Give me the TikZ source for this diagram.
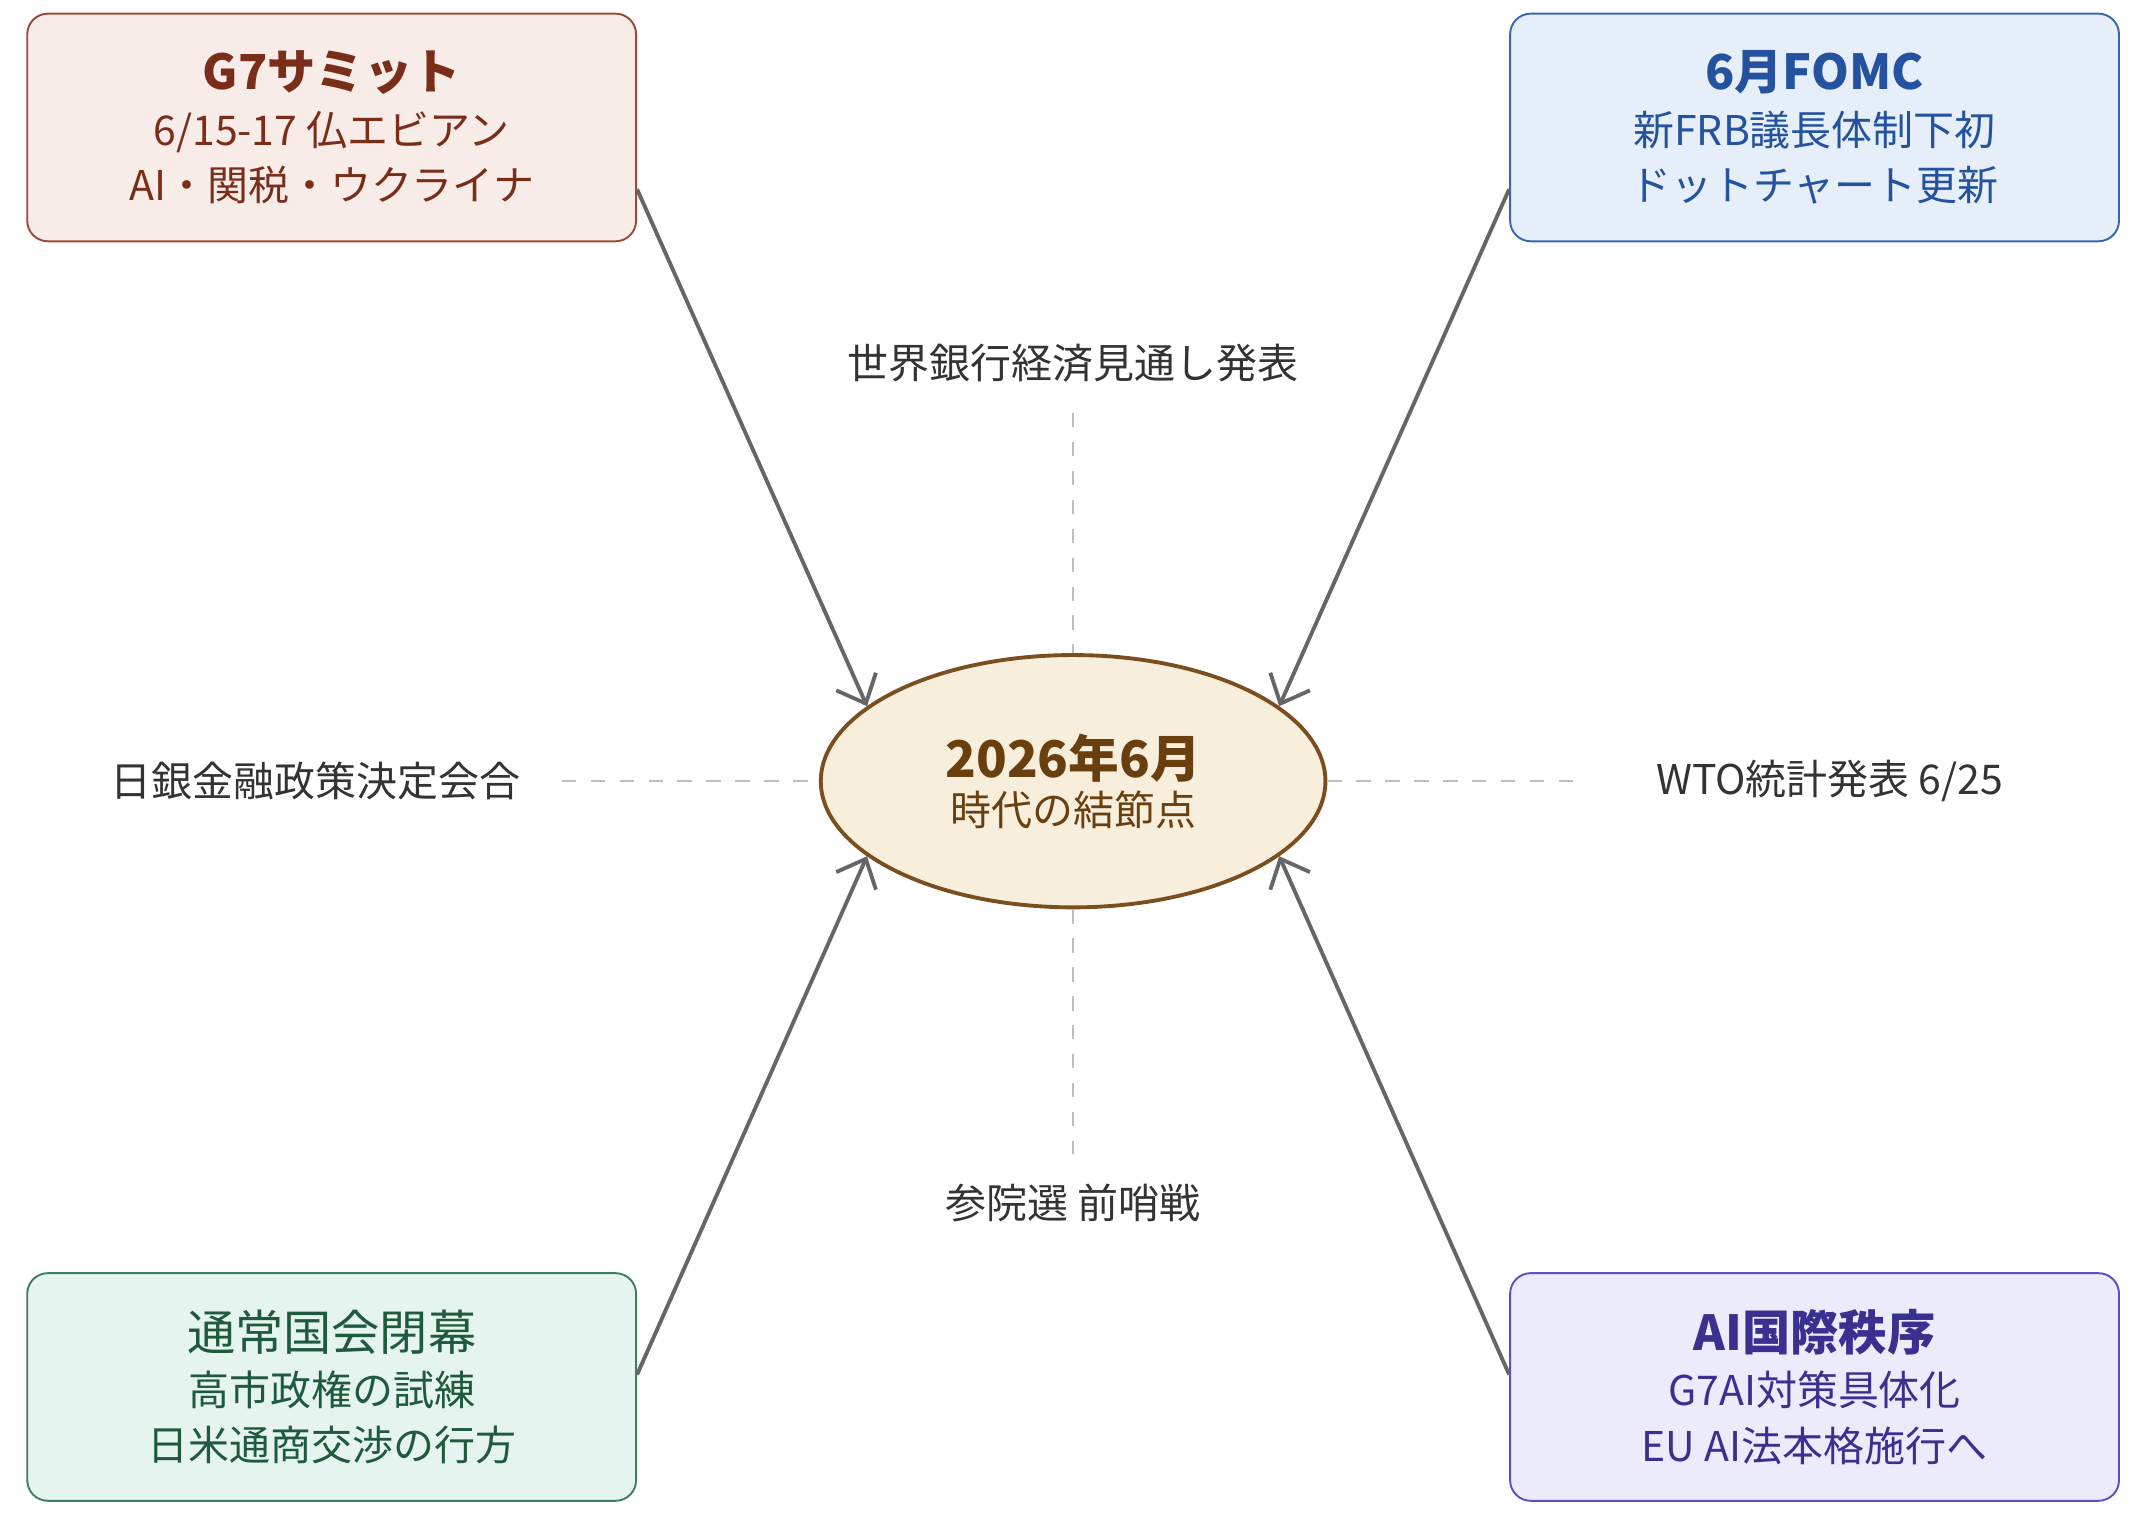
\documentclass[tikz,border=0pt]{standalone}
\usepackage{fontspec}
\setmainfont{Noto Sans CJK JP}
\usetikzlibrary{positioning, shapes, calc, arrows.meta}
\definecolor{gfill}{HTML}{F8ECE8}\definecolor{gline}{HTML}{9B4A3A}\definecolor{gtext}{HTML}{7A2E1A}
\definecolor{ffill}{HTML}{E6EFF9}\definecolor{fline}{HTML}{3A66B0}\definecolor{ftext}{HTML}{24529E}
\definecolor{nfill}{HTML}{E5F4EE}\definecolor{nline}{HTML}{3C8060}\definecolor{ntext}{HTML}{1F5A3E}
\definecolor{pfill}{HTML}{ECEBFB}\definecolor{pline}{HTML}{5A50C0}\definecolor{ptext}{HTML}{3A3090}
\definecolor{hfill}{HTML}{F8EEDC}\definecolor{hline}{HTML}{7A4E1E}\definecolor{htext}{HTML}{6A3F10}
\begin{document}
\begin{tikzpicture}[
x=0.01cm, y=-0.01cm,
mybox/.style={rectangle, rounded corners=0.15cm, draw=#1line, fill=#1fill, text=#1text,
  minimum width=4.44cm, minimum height=1.66cm, align=center, font=\fontsize{8.5pt}{11.5pt}\selectfont},
mylabel/.style={text=black!80, font=\fontsize{8.5pt}{10pt}\selectfont},
mydash/.style={draw=black!25, dashed, thin},
myarrow/.style={draw=black!60, line width=0.8pt, -{Straight Barb[length=5pt,width=9pt]}},
]
\useasboundingbox (0,0) rectangle (1560,1108);

\node[mybox=g] (g7) at (242,93)
    {{\fontsize{10pt}{12pt}\selectfont\bfseries G7サミット}\\6/15-17 仏エビアン\\AI・関税・ウクライナ};
\node[mybox=f] (fomc) at (1324,93)
    {{\fontsize{10pt}{12pt}\selectfont\bfseries 6月FOMC}\\新FRB議長体制下初\\ドットチャート更新};
\node[mybox=n] (diet) at (242,1012)
    {{\fontsize{10pt}{12pt}\selectfont 通常国会閉幕}\\高市政権の試練\\日米通商交渉の行方};
\node[mybox=p] (ai) at (1324,1012)
    {{\fontsize{10pt}{12pt}\selectfont\bfseries AI国際秩序}\\G7AI対策具体化\\EU AI法本格施行へ};

\node[ellipse, draw=hline, fill=hfill, text=htext, line width=0.8pt, minimum width=3.68cm,
  minimum height=1.84cm, align=center, font=\fontsize{8.5pt}{10pt}\selectfont] (hub) at (783,570)
    {{\fontsize{10.5pt}{12pt}\selectfont\bfseries 2026年6月}\\時代の結節点};

\node[mylabel] (wb) at (783,265) {世界銀行経済見通し発表};
\node[mylabel] (boj) at (230,570) {日銀金融政策決定会合};
\node[mylabel] (wto) at (1335,570) {WTO統計発表 6/25};
\node[mylabel] (upper) at (783,878) {参院選 前哨戦};

\draw[mydash] (wb.south) ++(0,10) -- (hub.north);
\draw[mydash] (boj.east) ++(18,0) -- (hub.west);
\draw[mydash] (hub.east) -- ($(wto.west)+(-40,0)$);
\draw[mydash] (hub.south) -- ($(upper.north)+(0,-10)$);

\draw[myarrow] ($(g7.east)+(0,45)$) -- (hub.160);
\draw[myarrow] ($(fomc.west)+(0,45)$) -- (hub.20);
\draw[myarrow] ($(diet.east)+(0,-9)$) -- (hub.200);
\draw[myarrow] ($(ai.west)+(0,-9)$) -- (hub.340);
\end{tikzpicture}
\end{document}
